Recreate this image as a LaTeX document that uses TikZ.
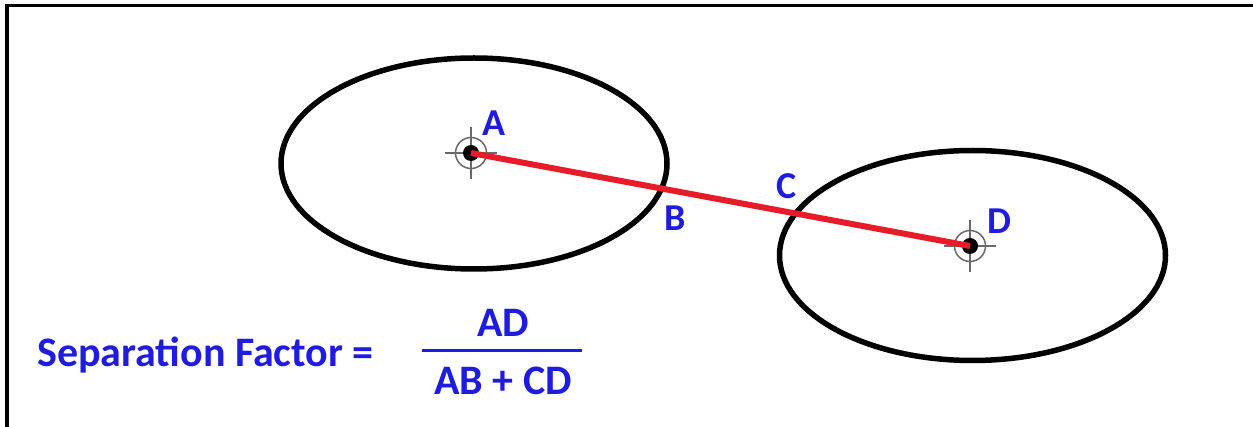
\documentclass[tikz,border=0pt]{standalone}
\usepackage{fontspec}
\setmainfont{Carlito}
\usetikzlibrary{shapes.geometric}
\definecolor{lblblue}{RGB}{30,28,225}
\definecolor{redline}{RGB}{232,28,40}
\definecolor{tgtgray}{RGB}{105,105,105}
\tikzset{
  oval/.style={ellipse, draw=black, line width=5.5pt, fill=white, inner sep=0pt},
  ptlabel/.style={text=lblblue, font=\fontsize{38}{42}\selectfont\bfseries, inner sep=0pt},
  formula/.style={text=lblblue, font=\fontsize{42}{46}\selectfont\bfseries, inner sep=0pt},
  tgtring/.style={circle, draw=tgtgray, line width=1.5pt, minimum size=31pt, inner sep=0pt},
  tgtdot/.style={circle, fill=black, minimum size=16pt, inner sep=0pt},
  cross/.style={draw=tgtgray, line width=1.2pt},
  link/.style={draw=redline, line width=6pt},
  frame/.style={draw=black, line width=3.5pt}
}
\begin{document}
\begin{tikzpicture}[x=1pt, y=-1pt]
\useasboundingbox (0,0) rectangle (1253,427);
% frame
\coordinate (f1) at (7,430);
\coordinate (f2) at (7,5.5);
\coordinate (f3) at (1256,5.5);
\draw[frame] (f1) -- (f2) -- (f3);
% ellipses
\node[oval, minimum width=386pt, minimum height=211pt] (E1) at (474,163.5) {};
\node[oval, minimum width=386pt, minimum height=210pt] (E2) at (972.5,255.5) {};
% targets
\coordinate (A) at (471,153);
\coordinate (D) at (970,246);
\node[tgtring] (Aring) at (A) {};
\node[tgtring] (Dring) at (D) {};
\draw[cross] ([xshift=-26pt]A) -- ([xshift=26pt]A);
\draw[cross] ([yshift=-26pt]A) -- ([yshift=26pt]A);
\draw[cross] ([xshift=-26pt]D) -- ([xshift=26pt]D);
\draw[cross] ([yshift=-26pt]D) -- ([yshift=26pt]D);
\node[tgtdot] (Adot) at (A) {};
\node[tgtdot] (Ddot) at (D) {};
% red line
\draw[link] (A) -- (D);
% labels
\node[ptlabel] (LA) at (494,123) {A};
\node[ptlabel] (LB) at (675,218) {B};
\node[ptlabel] (LC) at (787,186) {C};
\node[ptlabel] (LD) at (999,221) {D};
% formula
\node[formula, anchor=base west] (SF) at (37,367) {Separation Factor =};
\node[formula, anchor=base] (num) at (503,337) {AD};
\coordinate (barL) at (422,351);
\coordinate (barR) at (582,351);
\draw[draw=lblblue, line width=3pt] (barL) -- (barR);
\node[formula, anchor=base] (den) at (503,395) {AB + CD};
\end{tikzpicture}
\end{document}
